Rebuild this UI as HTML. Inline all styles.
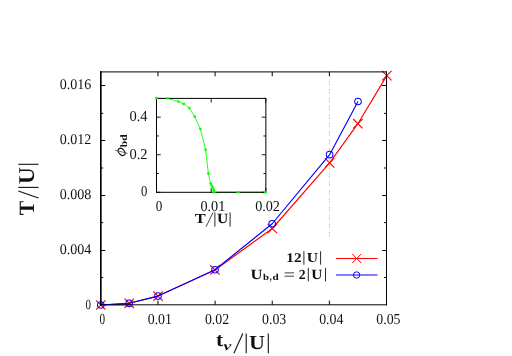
<!DOCTYPE html>
<html><head><meta charset="utf-8"><title>plot</title>
<style>
html,body{margin:0;padding:0;background:#fff;}
body{width:512px;height:356px;overflow:hidden;font-family:"Liberation Serif",serif;}
svg{display:block;}
</style></head><body>
<svg width="512" height="356" viewBox="0 0 512 356" text-rendering="geometricPrecision">
<rect x="0" y="0" width="512" height="356" fill="#fff"/>
<g opacity="0.999">
<line x1="329.45" y1="80.80" x2="329.45" y2="237.40" stroke="#b0b0b0" stroke-width="0.75" stroke-dasharray="1.7 1.0 1.6 4.1"/>
<polyline fill="none" stroke="#ff0000" stroke-width="1.15" stroke-linejoin="round" points="100.80,305.00 129.20,303.30 158.00,296.10 215.00,269.95 272.30,228.50 329.60,162.90 357.90,123.70 386.80,75.65"/>
<line x1="96.10" y1="300.30" x2="105.50" y2="309.70" stroke="#ff0000" stroke-width="1.15" />
<line x1="96.10" y1="309.70" x2="105.50" y2="300.30" stroke="#ff0000" stroke-width="1.15" />
<line x1="124.50" y1="298.60" x2="133.90" y2="308.00" stroke="#ff0000" stroke-width="1.15" />
<line x1="124.50" y1="308.00" x2="133.90" y2="298.60" stroke="#ff0000" stroke-width="1.15" />
<line x1="153.30" y1="291.40" x2="162.70" y2="300.80" stroke="#ff0000" stroke-width="1.15" />
<line x1="153.30" y1="300.80" x2="162.70" y2="291.40" stroke="#ff0000" stroke-width="1.15" />
<line x1="210.30" y1="265.25" x2="219.70" y2="274.65" stroke="#ff0000" stroke-width="1.15" />
<line x1="210.30" y1="274.65" x2="219.70" y2="265.25" stroke="#ff0000" stroke-width="1.15" />
<line x1="267.60" y1="223.80" x2="277.00" y2="233.20" stroke="#ff0000" stroke-width="1.15" />
<line x1="267.60" y1="233.20" x2="277.00" y2="223.80" stroke="#ff0000" stroke-width="1.15" />
<line x1="324.90" y1="158.20" x2="334.30" y2="167.60" stroke="#ff0000" stroke-width="1.15" />
<line x1="324.90" y1="167.60" x2="334.30" y2="158.20" stroke="#ff0000" stroke-width="1.15" />
<line x1="353.20" y1="119.00" x2="362.60" y2="128.40" stroke="#ff0000" stroke-width="1.15" />
<line x1="353.20" y1="128.40" x2="362.60" y2="119.00" stroke="#ff0000" stroke-width="1.15" />
<line x1="382.10" y1="70.95" x2="391.50" y2="80.35" stroke="#ff0000" stroke-width="1.15" />
<line x1="382.10" y1="80.35" x2="391.50" y2="70.95" stroke="#ff0000" stroke-width="1.15" />
<rect x="100.0" y="71.4" width="1.0" height="233.9" fill="#000"/>
<rect x="386.0" y="71.4" width="1.0" height="233.9" fill="#000"/>
<rect x="100.0" y="71.4" width="287.0" height="1.0" fill="#000"/>
<rect x="100.0" y="304.3" width="287.0" height="1.0" fill="#000"/>
<line x1="101.00" y1="277.50" x2="103.20" y2="277.50" stroke="#000" stroke-width="1.0" />
<line x1="386.50" y1="277.50" x2="384.10" y2="277.50" stroke="#000" stroke-width="1.0" />
<line x1="101.00" y1="250.50" x2="105.20" y2="250.50" stroke="#000" stroke-width="1.0" />
<line x1="386.50" y1="250.50" x2="382.10" y2="250.50" stroke="#000" stroke-width="1.0" />
<line x1="101.00" y1="222.60" x2="103.20" y2="222.60" stroke="#000" stroke-width="1.0" />
<line x1="386.50" y1="222.60" x2="384.10" y2="222.60" stroke="#000" stroke-width="1.0" />
<line x1="101.00" y1="195.50" x2="105.20" y2="195.50" stroke="#000" stroke-width="1.0" />
<line x1="386.50" y1="195.50" x2="382.10" y2="195.50" stroke="#000" stroke-width="1.0" />
<line x1="101.00" y1="168.00" x2="103.20" y2="168.00" stroke="#000" stroke-width="1.0" />
<line x1="386.50" y1="168.00" x2="384.10" y2="168.00" stroke="#000" stroke-width="1.0" />
<line x1="101.00" y1="140.50" x2="105.20" y2="140.50" stroke="#000" stroke-width="1.0" />
<line x1="386.50" y1="140.50" x2="382.10" y2="140.50" stroke="#000" stroke-width="1.0" />
<line x1="101.00" y1="113.40" x2="103.20" y2="113.40" stroke="#000" stroke-width="1.0" />
<line x1="386.50" y1="113.40" x2="384.10" y2="113.40" stroke="#000" stroke-width="1.0" />
<line x1="101.00" y1="85.50" x2="105.20" y2="85.50" stroke="#000" stroke-width="1.0" />
<line x1="386.50" y1="85.50" x2="382.10" y2="85.50" stroke="#000" stroke-width="1.0" />
<line x1="157.94" y1="304.80" x2="157.94" y2="300.60" stroke="#000" stroke-width="1.0" />
<line x1="157.94" y1="71.90" x2="157.94" y2="76.30" stroke="#000" stroke-width="1.0" />
<line x1="215.08" y1="304.80" x2="215.08" y2="300.60" stroke="#000" stroke-width="1.0" />
<line x1="215.08" y1="71.90" x2="215.08" y2="76.30" stroke="#000" stroke-width="1.0" />
<line x1="272.22" y1="304.80" x2="272.22" y2="300.60" stroke="#000" stroke-width="1.0" />
<line x1="272.22" y1="71.90" x2="272.22" y2="76.30" stroke="#000" stroke-width="1.0" />
<line x1="329.36" y1="304.80" x2="329.36" y2="300.60" stroke="#000" stroke-width="1.0" />
<line x1="329.36" y1="71.90" x2="329.36" y2="76.30" stroke="#000" stroke-width="1.0" />
<polyline fill="none" stroke="#0000ff" stroke-width="1.15" stroke-linejoin="round" points="100.80,305.00 129.20,303.30 158.00,296.10 215.00,269.75 272.20,223.75 329.60,154.65 358.00,101.50"/>
<rect x="100.0" y="304.3" width="30" height="1.0" fill="#000" opacity="0.8"/>
<circle cx="100.80" cy="305.00" r="3.3" fill="none" stroke="#0000ff" stroke-width="1.05"/>
<circle cx="129.20" cy="303.30" r="3.3" fill="none" stroke="#0000ff" stroke-width="1.05"/>
<circle cx="158.00" cy="296.10" r="3.3" fill="none" stroke="#0000ff" stroke-width="1.05"/>
<circle cx="215.00" cy="269.75" r="3.3" fill="none" stroke="#0000ff" stroke-width="1.05"/>
<circle cx="272.20" cy="223.75" r="3.3" fill="none" stroke="#0000ff" stroke-width="1.05"/>
<circle cx="329.60" cy="154.65" r="3.3" fill="none" stroke="#0000ff" stroke-width="1.05"/>
<circle cx="358.00" cy="101.50" r="3.3" fill="none" stroke="#0000ff" stroke-width="1.05"/>
<rect x="100.0" y="71.4" width="1.65" height="233.4" fill="#000"/>
<text transform="matrix(0.05500 0 0 0.06889 85.500 308.962)" font-size="200" font-family="Liberation Serif" fill="#111">0</text>
<text transform="matrix(0.07000 0 0 0.07353 59.700 253.979)" font-size="200" font-family="Liberation Serif" fill="#111">0.004</text>
<text transform="matrix(0.07000 0 0 0.07353 59.700 198.979)" font-size="200" font-family="Liberation Serif" fill="#111">0.008</text>
<text transform="matrix(0.07000 0 0 0.07353 59.700 143.979)" font-size="200" font-family="Liberation Serif" fill="#111">0.012</text>
<text transform="matrix(0.07000 0 0 0.07353 59.700 88.979)" font-size="200" font-family="Liberation Serif" fill="#111">0.016</text>
<text transform="matrix(0.05600 0 0 0.07704 99.400 324.346)" font-size="200" font-family="Liberation Serif" fill="#111">0</text>
<text transform="matrix(0.06914 0 0 0.07647 147.740 324.271)" font-size="200" font-family="Liberation Serif" fill="#111">0.01</text>
<text transform="matrix(0.06914 0 0 0.07647 204.880 324.271)" font-size="200" font-family="Liberation Serif" fill="#111">0.02</text>
<text transform="matrix(0.06914 0 0 0.07647 262.020 324.271)" font-size="200" font-family="Liberation Serif" fill="#111">0.03</text>
<text transform="matrix(0.06914 0 0 0.07647 319.160 324.271)" font-size="200" font-family="Liberation Serif" fill="#111">0.04</text>
<text transform="matrix(0.06914 0 0 0.07647 376.300 324.271)" font-size="200" font-family="Liberation Serif" fill="#111">0.05</text>
<text transform="matrix(0 -0.10827 0.10916 0 34.100 215.200)" font-size="200" font-family="Liberation Serif" font-weight="bold" fill="#111" stroke="#fff" stroke-width="0.5" vector-effect="non-scaling-stroke">T</text>
<line x1="38.50" y1="198.10" x2="18.30" y2="190.90" stroke="#111" stroke-width="1.1" />
<line x1="18.30" y1="187.40" x2="38.50" y2="187.40" stroke="#111" stroke-width="1.1" />
<text transform="matrix(0 -0.11667 0.11353 0 34.073 183.900)" font-size="200" font-family="Liberation Serif" font-weight="bold" fill="#111" stroke="#fff" stroke-width="0.5" vector-effect="non-scaling-stroke">U</text>
<line x1="18.30" y1="164.30" x2="38.50" y2="164.30" stroke="#111" stroke-width="1.1" />
<text transform="matrix(0.10746 0 0 0.09739 215.900 346.405)" font-size="200" font-family="Liberation Serif" font-weight="bold" fill="#111" stroke="#fff" stroke-width="0.4" vector-effect="non-scaling-stroke">t</text>
<text transform="matrix(0.08791 0 0 0.06170 223.600 349.777)" font-size="200" font-family="Liberation Serif" font-weight="bold" font-style="italic" fill="#111" stroke="#fff" stroke-width="0.3" vector-effect="non-scaling-stroke">ν</text>
<line x1="233.90" y1="353.30" x2="242.80" y2="333.50" stroke="#111" stroke-width="1.1" />
<line x1="246.20" y1="333.50" x2="246.20" y2="353.30" stroke="#111" stroke-width="1.1" />
<text transform="matrix(0.11042 0 0 0.10000 249.000 348.500)" font-size="200" font-family="Liberation Serif" font-weight="bold" fill="#111" stroke="#fff" stroke-width="0.5" vector-effect="non-scaling-stroke">U</text>
<line x1="268.30" y1="333.50" x2="268.30" y2="353.30" stroke="#111" stroke-width="1.1" />
<text transform="matrix(0.07650 0 0 0.06667 286.300 261.700)" font-size="200" font-family="Liberation Serif" font-weight="bold" fill="#111">12</text>
<line x1="303.90" y1="251.20" x2="303.90" y2="264.70" stroke="#111" stroke-width="0.9" />
<text transform="matrix(0.07847 0 0 0.06842 306.800 261.863)" font-size="200" font-family="Liberation Serif" font-weight="bold" fill="#111">U</text>
<line x1="320.60" y1="251.20" x2="320.60" y2="264.70" stroke="#111" stroke-width="0.9" />
<line x1="335.90" y1="258.50" x2="377.50" y2="258.50" stroke="#ff0000" stroke-width="1.0" />
<line x1="352.10" y1="253.90" x2="361.30" y2="263.10" stroke="#ff0000" stroke-width="1.0" />
<line x1="352.10" y1="263.10" x2="361.30" y2="253.90" stroke="#ff0000" stroke-width="1.0" />
<text transform="matrix(0.08264 0 0 0.07068 250.500 278.759)" font-size="200" font-family="Liberation Serif" font-weight="bold" fill="#111">U</text>
<text transform="matrix(0.05405 0 0 0.04539 263.000 279.909)" font-size="200" font-family="Liberation Serif" font-weight="bold" fill="#111">b</text>
<text transform="matrix(0.03800 0 0 0.06000 269.800 280.140)" font-size="200" font-family="Liberation Serif" font-weight="bold" fill="#111">,</text>
<text transform="matrix(0.05586 0 0 0.04539 272.600 279.909)" font-size="200" font-family="Liberation Serif" font-weight="bold" fill="#111">d</text>
<line x1="284.60" y1="272.90" x2="294.10" y2="272.90" stroke="#111" stroke-width="0.8" />
<line x1="284.60" y1="276.20" x2="294.10" y2="276.20" stroke="#111" stroke-width="0.8" />
<text transform="matrix(0.06800 0 0 0.06894 298.800 278.600)" font-size="200" font-family="Liberation Serif" font-weight="bold" fill="#111">2</text>
<line x1="308.30" y1="267.90" x2="308.30" y2="281.40" stroke="#111" stroke-width="0.9" />
<text transform="matrix(0.07708 0 0 0.07068 311.300 278.759)" font-size="200" font-family="Liberation Serif" font-weight="bold" fill="#111">U</text>
<line x1="325.50" y1="267.90" x2="325.50" y2="281.40" stroke="#111" stroke-width="0.9" />
<line x1="335.90" y1="275.00" x2="377.50" y2="275.00" stroke="#0000ff" stroke-width="1.0" />
<circle cx="356.6" cy="275.0" r="3.2" fill="none" stroke="#0000ff" stroke-width="1.0"/>
<rect x="156.5" y="98.4" width="109.35" height="93.90" fill="#fff" stroke="none"/>
<polyline fill="none" stroke="#00ff00" stroke-width="0.85" stroke-linejoin="round" points="156.40,98.40 167.60,98.40 178.30,101.50 183.80,103.90 189.40,108.10 194.70,116.60 200.40,129.10 205.60,149.70 208.40,173.40 210.60,183.60 211.80,185.90 212.90,187.90 213.70,190.20 214.00,192.30"/>
<rect x="156.5" y="98.4" width="109.35" height="93.90" fill="none" stroke="#000" stroke-width="1.0"/>
<line x1="214.00" y1="192.30" x2="265.50" y2="192.30" stroke="#0c300c" stroke-width="1.0" />
<line x1="156.50" y1="192.30" x2="160.70" y2="192.30" stroke="#000" stroke-width="0.9" />
<line x1="265.85" y1="192.30" x2="261.65" y2="192.30" stroke="#000" stroke-width="0.9" />
<line x1="156.50" y1="173.52" x2="158.90" y2="173.52" stroke="#000" stroke-width="0.9" />
<line x1="265.85" y1="173.52" x2="263.45" y2="173.52" stroke="#000" stroke-width="0.9" />
<line x1="156.50" y1="154.74" x2="160.70" y2="154.74" stroke="#000" stroke-width="0.9" />
<line x1="265.85" y1="154.74" x2="261.65" y2="154.74" stroke="#000" stroke-width="0.9" />
<line x1="156.50" y1="135.96" x2="158.90" y2="135.96" stroke="#000" stroke-width="0.9" />
<line x1="265.85" y1="135.96" x2="263.45" y2="135.96" stroke="#000" stroke-width="0.9" />
<line x1="156.50" y1="117.18" x2="160.70" y2="117.18" stroke="#000" stroke-width="0.9" />
<line x1="265.85" y1="117.18" x2="261.65" y2="117.18" stroke="#000" stroke-width="0.9" />
<line x1="156.50" y1="98.40" x2="158.90" y2="98.40" stroke="#000" stroke-width="0.9" />
<line x1="265.85" y1="98.40" x2="263.45" y2="98.40" stroke="#000" stroke-width="0.9" />
<line x1="156.50" y1="192.30" x2="156.50" y2="188.10" stroke="#000" stroke-width="0.9" />
<line x1="156.50" y1="98.40" x2="156.50" y2="102.60" stroke="#000" stroke-width="0.9" />
<line x1="211.18" y1="192.30" x2="211.18" y2="188.10" stroke="#000" stroke-width="0.9" />
<line x1="211.18" y1="98.40" x2="211.18" y2="102.60" stroke="#000" stroke-width="0.9" />
<line x1="265.85" y1="192.30" x2="265.85" y2="188.10" stroke="#000" stroke-width="0.9" />
<line x1="265.85" y1="98.40" x2="265.85" y2="102.60" stroke="#000" stroke-width="0.9" />
<circle cx="156.40" cy="98.20" r="1.35" fill="#00ff00"/>
<circle cx="167.60" cy="98.30" r="1.35" fill="#00ff00"/>
<circle cx="178.30" cy="101.50" r="1.35" fill="#00ff00"/>
<circle cx="183.80" cy="103.90" r="1.35" fill="#00ff00"/>
<circle cx="189.40" cy="108.10" r="1.35" fill="#00ff00"/>
<circle cx="194.70" cy="116.60" r="1.35" fill="#00ff00"/>
<circle cx="200.40" cy="129.10" r="1.35" fill="#00ff00"/>
<circle cx="205.60" cy="149.70" r="1.35" fill="#00ff00"/>
<circle cx="208.40" cy="173.40" r="1.35" fill="#00ff00"/>
<circle cx="210.60" cy="183.60" r="1.35" fill="#00ff00"/>
<circle cx="211.80" cy="185.90" r="1.35" fill="#00ff00"/>
<circle cx="212.90" cy="187.90" r="1.35" fill="#00ff00"/>
<circle cx="213.70" cy="190.20" r="1.35" fill="#00ff00"/>
<circle cx="214.00" cy="192.30" r="1.35" fill="#00ff00"/>
<circle cx="238.20" cy="192.30" r="1.35" fill="#00ff00"/>
<circle cx="265.50" cy="192.30" r="1.35" fill="#00ff00"/>
<text transform="matrix(0.07240 0 0 0.07500 129.400 121.055)" font-size="200" font-family="Liberation Serif" fill="#111">0.4</text>
<text transform="matrix(0.07240 0 0 0.07500 129.400 158.615)" font-size="200" font-family="Liberation Serif" fill="#111">0.2</text>
<text transform="matrix(0.06300 0 0 0.07556 140.900 196.249)" font-size="200" font-family="Liberation Serif" fill="#111">0</text>
<text transform="matrix(0.06500 0 0 0.07556 155.700 211.249)" font-size="200" font-family="Liberation Serif" fill="#111">0</text>
<text transform="matrix(0.07086 0 0 0.07500 200.475 211.175)" font-size="200" font-family="Liberation Serif" fill="#111">0.01</text>
<text transform="matrix(0.07086 0 0 0.07500 255.150 211.175)" font-size="200" font-family="Liberation Serif" fill="#111">0.02</text>
<text transform="matrix(0.08195 0 0 0.06870 194.800 223.200)" font-size="200" font-family="Liberation Serif" font-weight="bold" fill="#111">T</text>
<line x1="206.10" y1="226.70" x2="213.10" y2="212.40" stroke="#111" stroke-width="0.8" />
<line x1="214.90" y1="212.40" x2="214.90" y2="226.70" stroke="#111" stroke-width="0.9" />
<text transform="matrix(0.07778 0 0 0.06992 216.900 223.360)" font-size="200" font-family="Liberation Serif" font-weight="bold" fill="#111">U</text>
<line x1="230.10" y1="212.40" x2="230.10" y2="226.70" stroke="#111" stroke-width="0.9" />
<ellipse cx="121.6" cy="151.85" rx="4.1" ry="2.8" fill="none" stroke="#111" stroke-width="1.1" transform="rotate(50 121.6 151.85)"/>
<line x1="114.80" y1="150.10" x2="127.70" y2="153.40" stroke="#333" stroke-width="0.7" />
<text transform="matrix(0 -0.05766 0.04894 0 126.802 147.200)" font-size="200" font-family="Liberation Serif" font-weight="bold" fill="#111">bd</text>
</g>
</svg>
</body></html>
